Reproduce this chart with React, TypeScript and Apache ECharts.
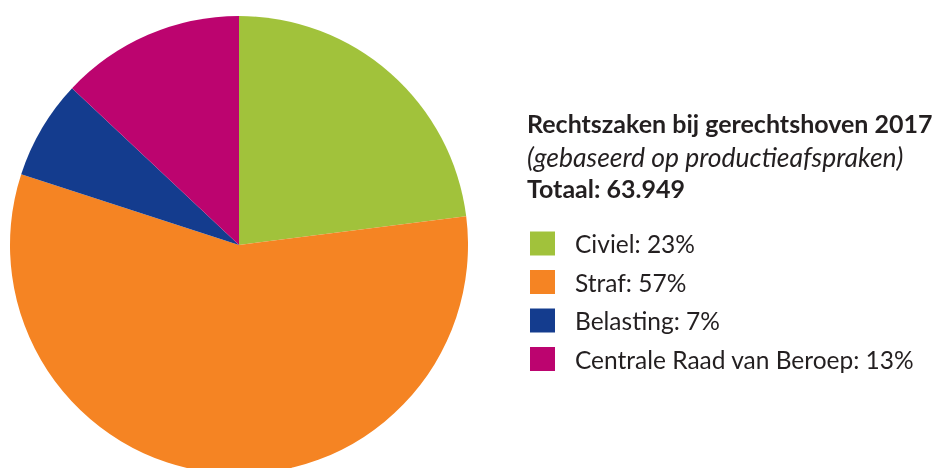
import React, { useEffect, useRef } from "react";
import * as echarts from "echarts";

const categories = ["Civiel", "Straf", "Belasting", "Centrale Raad van Beroep"];
const values = [23, 57, 7, 13];
const colors = ["#A1C23B", "#F58423", "#143C8E", "#BC046F"];
const titleLines = ["Rechtszaken bij gerechtshoven 2017", "(gebaseerd op productieafspraken)", "Totaal: 63.949"];

export default function App() {
  const ref = useRef<HTMLDivElement>(null);
  useEffect(() => {
    if (!ref.current) return;
    const chart = echarts.init(ref.current, undefined, { renderer: "svg" });
    const font = "Lato, 'Noto Sans', sans-serif";
    chart.setOption({
      animation: false,
      color: colors,
      title: [
        { text: titleLines[0], left: 527, top: 110, padding: 0, textStyle: { fontFamily: font, fontSize: 25, fontWeight: "bold", color: "#231f20" } },
        { text: titleLines[1], left: 527, top: 143, padding: 0, textStyle: { fontFamily: font, fontSize: 26.5, fontStyle: "italic", fontWeight: "normal", color: "#231f20" } },
        { text: titleLines[2], left: 527, top: 175, padding: 0, textStyle: { fontFamily: font, fontSize: 25, fontWeight: "bold", color: "#231f20" } },
      ],
      legend: {
        orient: "vertical",
        left: 530,
        top: 231,
        icon: "rect",
        itemWidth: 25,
        itemHeight: 24,
        itemGap: 13.5,
        padding: 0,
        selectedMode: false,
        formatter: (name: string) => {
          const i = categories.indexOf(name);
          return `${name}: ${values[i]}%`;
        },
        textStyle: { fontFamily: font, fontSize: 24.5, color: "#231f20", padding: [0, 0, 0, 15] },
      },
      series: [
        {
          type: "pie",
          center: [239, 245],
          radius: 229,
          startAngle: 90,
          clockwise: true,
          label: { show: false },
          labelLine: { show: false },
          itemStyle: { borderWidth: 0 },
          emphasis: { disabled: true },
          data: categories.map((c, i) => ({ name: c, value: values[i] })),
        },
      ],
    });
    return () => chart.dispose();
  }, []);
  return <div ref={ref} style={{ position: "fixed", left: 0, top: 0, width: 939, height: 468 }} />;
}
